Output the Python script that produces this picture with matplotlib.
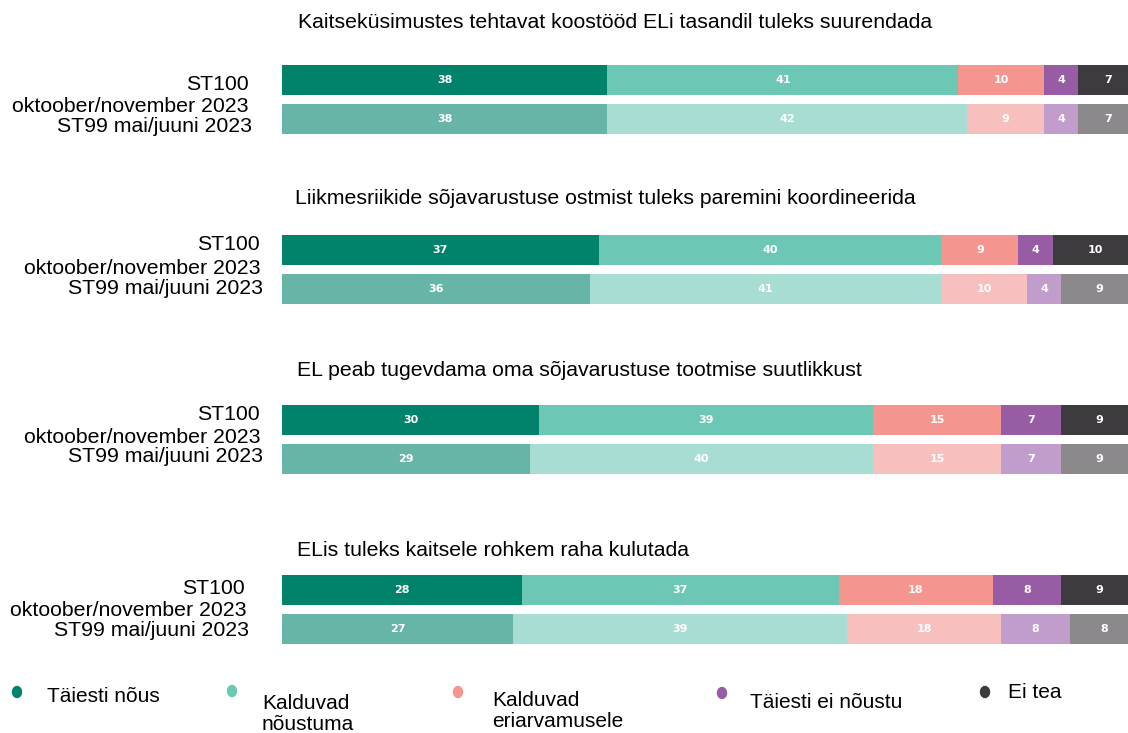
import matplotlib.pyplot as plt
from matplotlib.patches import Ellipse
import numpy as np

plt.rcParams['font.family'] = ['Liberation Sans', 'DejaVu Sans']

# Data
titles = [
    "Kaitseküsimustes tehtavat koostööd ELi tasandil tuleks suurendada",
    "Liikmesriikide sõjavarustuse ostmist tuleks paremini koordineerida",
    "EL peab tugevdama oma sõjavarustuse tootmise suutlikkust",
    "ELis tuleks kaitsele rohkem raha kulutada",
]
categories = ["Täiesti nõus", "Kalduvad\nnõustuma", "Kalduvad\neriarvamusele",
              "Täiesti ei nõustu", "Ei tea"]
st100 = [
    [38, 41, 10, 4, 7],
    [37, 40, 9, 4, 10],
    [30, 39, 15, 7, 9],
    [28, 37, 18, 8, 9],
]
st99 = [
    [38, 42, 9, 4, 7],
    [36, 41, 10, 4, 9],
    [29, 40, 15, 7, 9],
    [27, 39, 18, 8, 8],
]

colors = ["#00836A", "#6CC7B4", "#F4958F", "#975CA3", "#3D3B3E"]
colors_faded = ["#66B5A6", "#A8DDD4", "#F8BFBF", "#C09DCB", "#8B898B"]

W, H = 1128, 733
fig = plt.figure(figsize=(W / 100, H / 100), dpi=100)


def fx(px):
    return px / W


def fy(py):
    return 1 - py / H


title_pos = [(615, 22, 'center'), (295, 198, 'left'), (297, 370, 'left'), (297, 550, 'left')]
label_pos = [
    (249, 84, 248, 107, 252, 126),
    (260, 245, 260, 268, 263, 288),
    (260, 415, 260, 438, 263, 457),
    (245, 588, 246, 610, 249, 630),
]

for i in range(4):
    top = 60.5 + 170 * i
    ax = fig.add_axes([fx(282), fy(top + 78), fx(846), 78 / H])
    for row, (vals, cols) in enumerate([(st100[i], colors), (st99[i], colors_faded)]):
        left = 0
        for v, c in zip(vals, cols):
            ax.barh(row, v, left=left, height=0.77, color=c, edgecolor='none')
            ax.text(left + v / 2, row, str(v), ha='center', va='center',
                    color='white', fontsize=8, fontweight='bold', family='DejaVu Sans')
            left += v
    ax.set_xlim(0, 98.8)
    ax.set_ylim(1.5, -0.5)
    ax.axis('off')

    tx, ty, tha = title_pos[i]
    fig.text(fx(tx), fy(ty), titles[i], ha=tha, va='center', fontsize=15.3)
    a, b, c, d, e, f = label_pos[i]
    fig.text(fx(a), fy(b), "ST100", ha='right', va='center', fontsize=15.3)
    fig.text(fx(c), fy(d), "oktoober/november 2023", ha='right', va='center', fontsize=15.3)
    fig.text(fx(e), fy(f), "ST99 mai/juuni 2023", ha='right', va='center', fontsize=15.3)

# Legend
marker_x = [17, 232, 458, 722, 985]
marker_y = [692, 691, 692, 693, 692]
text_x = [47, 262, 492, 750, 1008]
text_y = [697, 714, 711, 703, 693]
for k in range(5):
    fig.add_artist(Ellipse((marker_x[k] / 100, (H - marker_y[k]) / 100), 0.09, 0.11,
                           color=colors[k], transform=fig.dpi_scale_trans))
    fig.text(fx(text_x[k]), fy(text_y[k]), categories[k], ha='left', va='center',
             fontsize=15, linespacing=1.15)

plt.savefig("out.png", dpi=100)
